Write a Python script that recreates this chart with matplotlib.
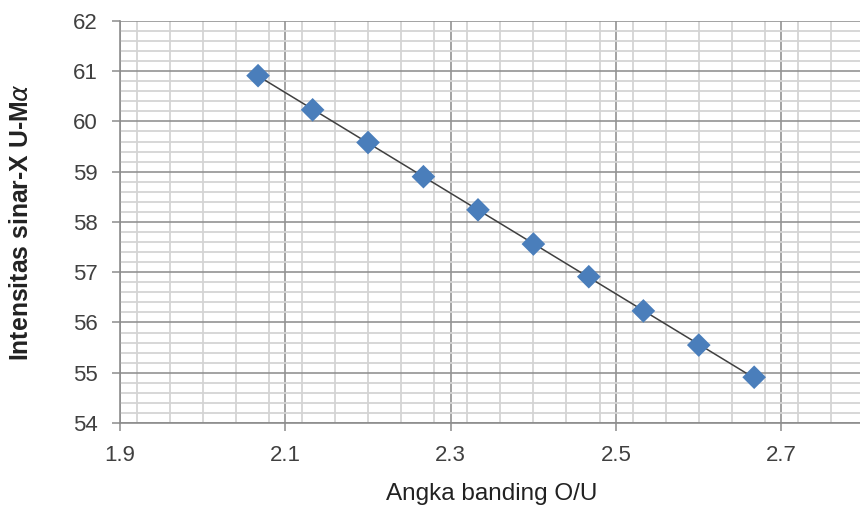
import numpy as np
import matplotlib.pyplot as plt
from matplotlib.ticker import MultipleLocator

plt.rcParams['font.family'] = ['Liberation Sans', 'DejaVu Sans']

ratio_ou = [2.067, 2.133, 2.200, 2.267, 2.333, 2.400, 2.467, 2.533, 2.600, 2.667]
intensity = [60.91, 60.23, 59.58, 58.90, 58.24, 57.56, 56.91, 56.23, 55.55, 54.91]

x_ticks = [1.9, 2.1, 2.3, 2.5, 2.7]
y_ticks = [54, 55, 56, 57, 58, 59, 60, 61, 62]

fig = plt.figure(figsize=(8.6, 5.09), dpi=100)
ax = fig.add_axes([0.1395, 0.169, 0.8605, 0.79])

# linear trendline like excel
coef = np.polyfit(ratio_ou, intensity, 1)
xs = np.array([ratio_ou[0], ratio_ou[-1]])
ax.plot(xs, np.polyval(coef, xs), color='#404040', lw=1.1, zorder=3)

ax.scatter(ratio_ou, intensity, marker='D', s=145, color='#4a7ebb',
           edgecolor='none', zorder=4)

ax.set_xlim(1.9, 2.795)
ax.set_ylim(54, 62)
ax.set_xticks(x_ticks)
ax.set_yticks(y_ticks)
ax.set_xticklabels([f'{v:.1f}' for v in x_ticks])
ax.xaxis.set_minor_locator(MultipleLocator(0.04))
ax.yaxis.set_minor_locator(MultipleLocator(0.2))

ax.grid(which='minor', color='#d4d4d4', lw=1.3)
ax.grid(which='major', color='#939393', lw=1.2)
ax.set_axisbelow(True)

for side in ['top', 'right']:
    ax.spines[side].set_visible(False)
ax.spines['left'].set_color('#8c8c8c')
ax.spines['bottom'].set_color('#8c8c8c')
ax.spines['left'].set_linewidth(1.2)
ax.spines['bottom'].set_linewidth(1.2)

ax.tick_params(which='major', length=6, width=1.1, color='#8c8c8c',
               labelsize=16, labelcolor='#404040')
ax.tick_params(axis='x', pad=10)
ax.tick_params(axis='y', pad=10)
ax.tick_params(which='minor', length=0)

ax.set_xlabel('Angka banding O/U', fontsize=17.5, color='#222222')
ax.set_ylabel('Intensitas sinar-X U-M$\\alpha$', fontsize=17.8,
              fontweight='bold', color='#222222')
ax.xaxis.set_label_coords((492 - 120) / 740, -0.15)
ax.yaxis.set_label_coords(-0.118, 0.5)

fig.savefig('out.png', dpi=100)
